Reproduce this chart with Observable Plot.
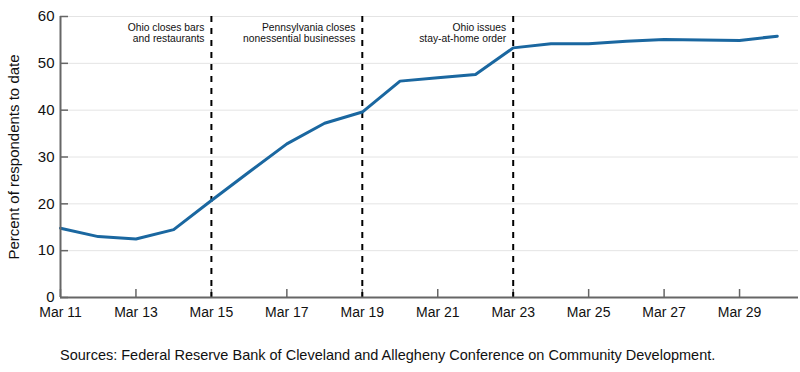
<!DOCTYPE html>
<html>
<head>
<meta charset="utf-8">
<script src="https://cdn.jsdelivr.net/npm/d3@7"></script>
<script src="https://cdn.jsdelivr.net/npm/@observablehq/plot@0.6"></script>
<style>
  body { margin: 0; background: #fff; font-family: "Liberation Sans", Arial, sans-serif; }
  #caption { margin: 20px 0 0 60px; font-size: 14.5px; line-height: 17px; color: #111; }
</style>
</head>
<body>
<div id="chart"></div>
<div id="caption"></div>
<script>
const dates = ["2020-03-11","2020-03-12","2020-03-13","2020-03-14","2020-03-15","2020-03-16","2020-03-17","2020-03-18","2020-03-19","2020-03-20","2020-03-21","2020-03-22","2020-03-23","2020-03-24","2020-03-25","2020-03-26","2020-03-27","2020-03-28","2020-03-29","2020-03-30"];
const values = [14.8, 13.0, 12.5, 14.5, 20.7, 26.8, 32.8, 37.2, 39.6, 46.2, 46.9, 47.6, 53.3, 54.2, 54.2, 54.7, 55.1, 55.0, 54.9, 55.8];
const eventDates = ["2020-03-15", "2020-03-19", "2020-03-23"];
const eventLabels = ["Ohio closes bars\nand restaurants", "Pennsylvania closes\nnonessential businesses", "Ohio issues\nstay-at-home order"];
const xTickDates = ["2020-03-11","2020-03-13","2020-03-15","2020-03-17","2020-03-19","2020-03-21","2020-03-23","2020-03-25","2020-03-27","2020-03-29"];
const yTicks = [0, 10, 20, 30, 40, 50, 60];
const yLabel = "Percent of respondents to date";
const captionText = "Sources: Federal Reserve Bank of Cleveland and Allegheny Conference on Community Development.";

const data = dates.map((d, i) => ({date: new Date(d), value: values[i]}));
const events = eventDates.map((d, i) => ({date: new Date(d), label: eventLabels[i]}));
const xTicks = xTickDates.map(d => new Date(d));

const W = 800, H = 327, mL = 60, mR = 2, mT = 16, mB = 30;
const innerW = W - mL - mR, innerH = H - mT - mB;
const axisColor = "#666";

const chart = Plot.plot({
  width: W, height: H,
  marginLeft: mL, marginRight: mR, marginTop: mT, marginBottom: mB,
  style: {fontFamily: "'Liberation Sans', Arial, sans-serif", color: "#111", background: "#fff"},
  x: {type: "utc", domain: [new Date("2020-03-11"), new Date("2020-03-30T13:30:00Z")]},
  y: {domain: [0, 60]},
  marks: [
    Plot.ruleY(yTicks.filter(d => d > 0), {stroke: "#e4e4e4", strokeWidth: 1}),
    Plot.axisY({ticks: yTicks, tickSize: 0, tickPadding: 6, fontSize: 15, label: yLabel, labelAnchor: "center", labelArrow: "none", labelOffset: 52, tickFormat: d => d}),
    Plot.axisX({ticks: xTicks, tickSize: 0, tickPadding: 10, fontSize: 14, label: null, tickFormat: d3.utcFormat("%b %-d")}),
    Plot.ruleY(yTicks, {stroke: axisColor, strokeWidth: 1.5, insetRight: innerW - 8}),
    Plot.ruleX(xTicks, {stroke: axisColor, strokeWidth: 1.5, insetTop: innerH - 8}),
    Plot.ruleX(events, {x: "date", stroke: "#000", strokeWidth: 2, strokeDasharray: "6,6"}),
    Plot.text(events, {x: "date", y: 60, text: "label", textAnchor: "end", lineAnchor: "top", dx: -7, dy: 6, fontSize: 10.3, lineHeight: 1.12, fill: "#111"}),
    Plot.line(data, {x: "date", y: "value", stroke: "#1a67a0", strokeWidth: 3}),
    Plot.ruleX([new Date("2020-03-11")], {stroke: axisColor, strokeWidth: 2}),
    Plot.ruleY([0], {stroke: axisColor, strokeWidth: 2})
  ]
});
document.getElementById("chart").appendChild(chart);
document.getElementById("caption").textContent = captionText;
</script>
</body>
</html>
